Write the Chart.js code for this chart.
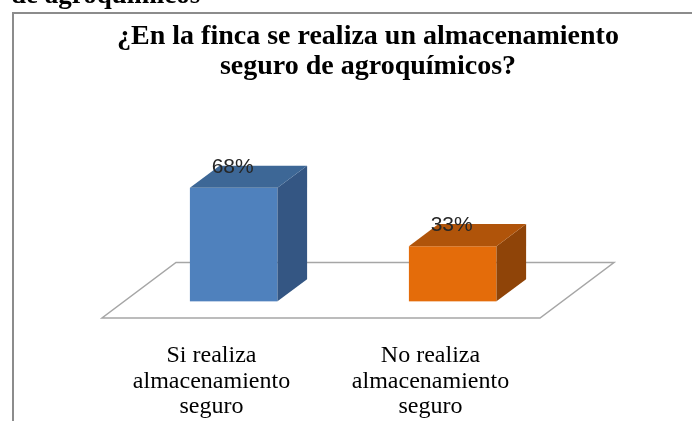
<!DOCTYPE html>
<html>
<head>
<meta charset="utf-8">
<script src="https://cdn.jsdelivr.net/npm/chart.js@4.4.1/dist/chart.umd.min.js"></script>
<style>
  html, body { margin: 0; padding: 0; background: #fff; }
  #wrap { width: 692px; height: 421px; }
</style>
</head>
<body>
<div id="wrap"><canvas id="almacenamientoChart" width="692" height="421"></canvas></div>
<script>
const categorias = [['Si realiza', 'almacenamiento', 'seguro'], ['No realiza', 'almacenamiento', 'seguro']];
const porcentajes = [68, 33];
const titulo = ['¿En la finca se realiza un almacenamiento', 'seguro de agroquímicos?'];

const coloresFrente = ['#4f81bd', '#e46c0a'];
const coloresTapa = ['#3d6796', '#b0540a'];
const coloresLado = ['#345683', '#8f4408'];

const fondo = { x: 74, y: -55.5 }; // profundidad del piso 3D

const caja3d = {
    id: 'caja3d',
    beforeDraw(chart) {
        const c = chart.ctx;
        c.save();
        // marco del grafico (recortado a la derecha y abajo)
        c.strokeStyle = '#8c8c8c';
        c.lineWidth = 2;
        c.beginPath();
        c.moveTo(13, 421); c.lineTo(13, 13); c.lineTo(692, 13);
        c.stroke();
        // texto cortado arriba
        c.fillStyle = '#000';
        c.font = 'bold 27px "Liberation Serif"';
        c.fillText('de agroquímicos', 11, 3);
        c.restore();
    },
    beforeDatasetsDraw(chart) {
        const { ctx: c, chartArea: a, scales: { y } } = chart;
        const y0 = y.getPixelForValue(0);
        c.save();
        c.strokeStyle = '#a6a6a6';
        c.lineWidth = 1.5;
        c.beginPath();
        c.moveTo(a.left, y0);
        c.lineTo(a.right, y0);
        c.lineTo(a.right + fondo.x, y0 + fondo.y);
        c.lineTo(a.left + fondo.x, y0 + fondo.y);
        c.closePath();
        c.stroke();
        c.restore();
    },
    afterDatasetsDraw(chart) {
        const c = chart.ctx;
        const meta = chart.getDatasetMeta(0);
        const ox = fondo.x * 0.3, oy = fondo.y * 0.3;
        const dx = fondo.x * 0.4, dy = fondo.y * 0.4;
        meta.data.forEach((bar, i) => {
            const { x, y, base, width } = bar.getProps(['x', 'y', 'base', 'width'], true);
            const l = x - width / 2 + ox, r = x + width / 2 + ox;
            const t = y + oy, b = base + oy;
            c.save();
            // cara frontal
            c.fillStyle = coloresFrente[i];
            c.fillRect(l, t, r - l, b - t);
            // lado
            c.fillStyle = coloresLado[i];
            c.beginPath();
            c.moveTo(r, t); c.lineTo(r + dx, t + dy); c.lineTo(r + dx, b + dy); c.lineTo(r, b);
            c.closePath();
            c.fill();
            // tapa
            c.fillStyle = coloresTapa[i];
            c.beginPath();
            c.moveTo(l, t); c.lineTo(l + dx, t + dy); c.lineTo(r + dx, t + dy); c.lineTo(r, t);
            c.closePath();
            c.fill();
            // etiqueta de valor
            c.fillStyle = '#262626';
            c.font = '21px "Liberation Sans"';
            c.textAlign = 'center';
            c.fillText(porcentajes[i] + '%', (l + r) / 2 - 1, t + dy + 7);
            c.restore();
        });
    }
};

const ctx = document.getElementById('almacenamientoChart').getContext('2d');

const almacenamientoChart = new Chart(ctx, {
    type: 'bar',
    data: {
        labels: categorias,
        datasets: [{
            data: porcentajes,
            backgroundColor: 'rgba(0,0,0,0)',
            borderWidth: 0,
            categoryPercentage: 1,
            barPercentage: 0.4
        }]
    },
    options: {
        responsive: false,
        animation: false,
        layout: { padding: { left: 44, right: 0, top: 0, bottom: 0 } },
        plugins: {
            legend: { display: false },
            tooltip: { enabled: false },
            title: {
                display: true,
                text: titulo,
                color: '#000',
                font: { family: 'Liberation Serif', size: 28, weight: 'bold', lineHeight: 30 / 28 },
                padding: { top: 22, bottom: 19 }
            }
        },
        scales: {
            x: {
                grid: { display: false },
                border: { display: false },
                ticks: {
                    color: '#000',
                    font: { family: 'Liberation Serif', size: 24, lineHeight: 25.5 / 24 },
                    padding: 17,
                    maxRotation: 0,
                    autoSkip: false
                },
                afterFit: s => { s.height = 103; }
            },
            y: {
                min: 0,
                max: 130,
                grid: { display: false },
                border: { display: false },
                ticks: { display: false },
                afterFit: s => { s.width = 58; }
            },
            y2: {
                position: 'right',
                grid: { display: false },
                border: { display: false },
                ticks: { display: false },
                afterFit: s => { s.width = 152; }
            }
        }
    },
    plugins: [caja3d]
});
</script>
</body>
</html>
